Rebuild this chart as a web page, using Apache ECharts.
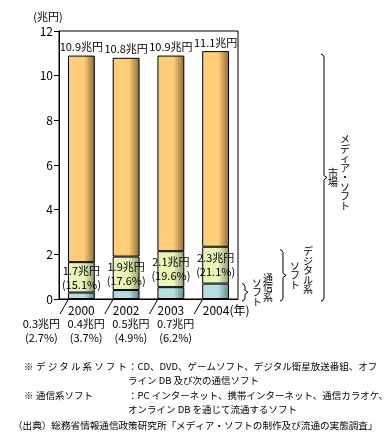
<!DOCTYPE html>
<html><head><meta charset="utf-8">
<script src="https://cdn.jsdelivr.net/npm/echarts@6/dist/echarts.min.js"></script>
<style>html,body{margin:0;padding:0;background:#fff}#c{width:392px;height:442px}</style>
</head><body><div id="c"></div>
<script>
// ---- data ----
const years = ['2000', '2002', '2003', '2004'];
const totalValues = [10.9, 10.8, 10.9, 11.1];      // メディア・ソフト市場 total (兆円)
const digitalValues = [1.65, 1.9, 2.14, 2.34];     // デジタル系ソフト (includes 通信系)
const commValues = [0.29, 0.4, 0.53, 0.69];        // 通信系ソフト
const totalLabels = ['10.9', '10.8', '10.9', '11.1'];
const digitalLabels = ['1.7', '1.9', '2.1', '2.3'];
const digitalShares = ['15.1', '17.6', '19.6', '21.1'];
const commLabels = ['0.3', '0.4', '0.5', '0.7'];
const commShares = ['2.7', '3.7', '4.9', '6.2'];
const yTicks = [0, 2, 4, 6, 8, 10, 12];

const F = '"Noto Sans CJK JP", "Noto Sans", sans-serif';
const digitalOnly = digitalValues.map((v, i) => +(v - commValues[i]).toFixed(3));
const mediaOnly = totalValues.map((v, i) => +(v - digitalValues[i]).toFixed(3));

function grad(base, dark) {
  return new echarts.graphic.LinearGradient(0, 0, 1, 0, [
    { offset: 0, color: base }, { offset: 0.6, color: base }, { offset: 1, color: dark }
  ]);
}
function vtext(s) { return s.split('').join('\n'); }
function T(text, x, y, size, align) {
  return { type: 'text', x: x, y: y, style: { text: text, fill: '#000', font: size + 'px ' + F,
    align: align || 'left', textAlign: align || 'left', verticalAlign: 'middle', textVerticalAlign: 'middle' } };
}

const chart = echarts.init(document.getElementById('c'), null, { renderer: 'canvas' });
chart.setOption({
  animation: false,
  backgroundColor: '#fff',
  textStyle: { fontFamily: F },
  grid: { left: 59, right: 154, top: 31, bottom: 143, show: true, borderColor: '#000', borderWidth: 1, backgroundColor: 'transparent' },
  xAxis: {
    type: 'category', data: years,
    axisLine: { lineStyle: { color: '#000', width: 1 } },
    axisTick: { inside: true, length: 5, lineStyle: { color: '#000' } },
    axisLabel: {
      interval: 0, color: '#000', fontSize: 12, margin: 5, fontFamily: F,
      formatter: (v, i) => i === years.length - 1 ? '{p|}' + v + '(年)' : v,
      rich: { p: { width: 21 } }
    }
  },
  yAxis: {
    type: 'value', min: yTicks[0], max: yTicks[yTicks.length - 1], interval: yTicks[1] - yTicks[0],
    axisLine: { show: true, lineStyle: { color: '#000', width: 1 } },
    axisTick: { show: true, length: 5, lineStyle: { color: '#000' } },
    axisLabel: { color: '#000', fontSize: 12, margin: 6, fontFamily: F },
    splitLine: { show: false }
  },
  series: [
    {
      name: '通信系ソフト', type: 'bar', stack: 'a', barWidth: '60%', data: commValues,
      itemStyle: { color: grad('#B2E0E0', '#5E8686'), borderColor: '#000', borderWidth: 1 },
      label: {
        show: true, position: 'bottom', distance: 18, offset: [-40, 0], color: '#000',
        fontSize: 11, lineHeight: 14, fontFamily: F,
        formatter: p => commLabels[p.dataIndex] + '兆円\n(' + commShares[p.dataIndex] + '%)'
      }
    },
    {
      name: 'デジタル系ソフト', type: 'bar', stack: 'a', data: digitalOnly,
      itemStyle: { color: grad('#E8F5B4', '#8D9670'), borderColor: '#000', borderWidth: 1 },
      label: {
        show: true, position: 'inside', color: '#000', fontSize: 11, lineHeight: 14, fontFamily: F,
        formatter: p => digitalLabels[p.dataIndex] + '兆円\n(' + digitalShares[p.dataIndex] + '%)'
      }
    },
    {
      name: 'メディア・ソフト', type: 'bar', stack: 'a', data: mediaOnly,
      itemStyle: { color: grad('#FFCC77', '#8A6A3C'), borderColor: '#000', borderWidth: 1 },
      label: {
        show: true, position: 'top', distance: 3, color: '#000', fontSize: 11, fontFamily: F,
        formatter: p => totalLabels[p.dataIndex] + '兆円'
      }
    },
    {
      // leader lines from the 通信系 segment to its label below the axis
      type: 'custom', silent: true, z: 5,
      data: years.map((y, i) => [i, 0]),
      renderItem: function (params, api) {
        const p = api.coord([api.value(0), 0]);
        const bw = api.size([1, 0])[0] * 0.6;
        const x0 = p[0] - bw / 2;
        return { type: 'line', shape: { x1: x0, y1: p[1] + 1, x2: x0 - 8, y2: p[1] + 15 },
          style: { stroke: '#000', lineWidth: 1 } };
      }
    },
    {
      // braces + vertical captions on the right
      type: 'custom', silent: true, z: 5,
      data: [[years.length - 1, 0]],
      renderItem: function (params, api) {
        const last = years.length - 1;
        const base = api.coord([last, 0]);
        const band = api.size([1, 0])[0];
        const xr = base[0] + band / 2;
        const y0 = base[1];
        const groups = [
          { x: xr + 86, top: api.coord([last, totalValues[last]])[1] + 3, c1: 'メディア・ソフト', c2: '市場', d1: 21, d2: 9 },
          { x: xr + 45, top: api.coord([last, digitalValues[last]])[1] + 3, c1: 'デジタル系', c2: 'ソフト', d1: 25, d2: 12 },
          { x: xr + 7, top: api.coord([last, commValues[last]])[1], c1: '通信系', c2: 'ソフト', d1: 23, d2: 12 }
        ];
        const children = [];
        groups.forEach(g => {
          const bottom = y0 + 2, x = g.x, top = g.top, mid = (top + bottom) / 2;
          const h = Math.min(3, (bottom - top) / 6);
          children.push({ type: 'polyline', shape: { points: [
            [x - 3, top], [x - 1, top + 0.8], [x, top + h], [x, mid - 2], [x + 3, mid],
            [x, mid + 2], [x, bottom - h], [x - 1, bottom - 0.8], [x - 3, bottom]] },
            style: { stroke: '#000', fill: null, lineWidth: 1 } });
          children.push({ type: 'text', x: x + g.d1, y: mid - 5, style: { text: vtext(g.c1), fill: '#000',
            font: '10px ' + F, lineHeight: 9.5, align: 'center', textAlign: 'center', verticalAlign: 'middle', textVerticalAlign: 'middle' } });
          children.push({ type: 'text', x: x + g.d2, y: mid, style: { text: vtext(g.c2), fill: '#000',
            font: '10px ' + F, lineHeight: 9.5, align: 'center', textAlign: 'center', verticalAlign: 'middle', textVerticalAlign: 'middle' } });
        });
        return { type: 'group', children: children };
      }
    }
  ],
  graphic: [
    T('(兆円)', 48, 17, 11, 'center'),
    T('※', 24, 366, 9.5),
    T('デ ジ タ ル 系 ソ フ ト', 36, 366, 9.5),
    T('：CD、DVD、ゲームソフト、デジタル衛星放送番組、オフ', 128, 366, 9.5),
    T('ライン DB 及び次の通信ソフト', 128, 380, 9.5),
    T('※', 24, 395, 9.5),
    T('通信系ソフト', 36, 395, 9.5),
    T('：PC インターネット、携帯インターネット、通信カラオケ、', 128, 395, 9.5),
    T('オンライン DB を通じて流通するソフト', 128, 409, 9.5),
    T('（出典）総務省情報通信政策研究所「メディア・ソフトの制作及び流通の実態調査」', 13, 425, 9.6)
  ]
});
</script>
</body></html>
